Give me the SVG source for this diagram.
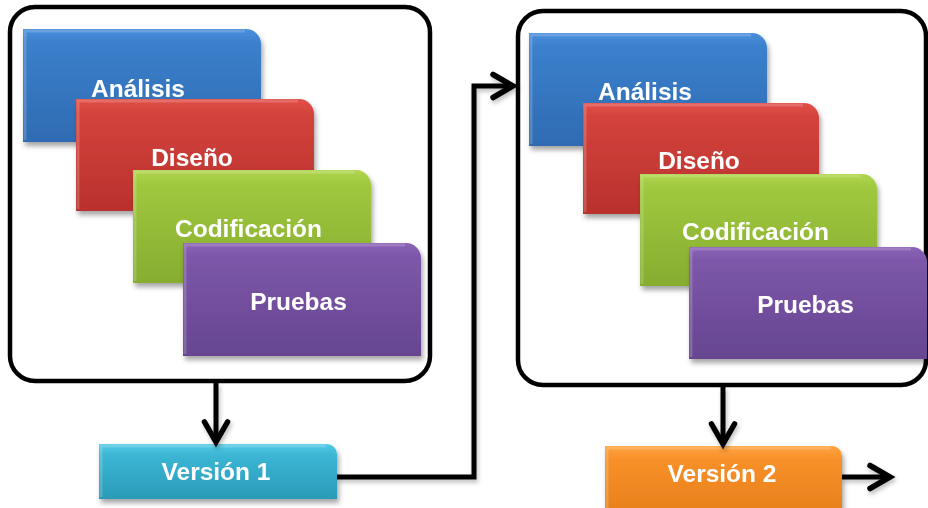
<svg xmlns="http://www.w3.org/2000/svg" width="928" height="508" viewBox="0 0 928 508">
<style>
.frame{fill:#fff;stroke:#000;stroke-width:4.5}
.lbl{font-family:"Liberation Sans",Arial,sans-serif;font-weight:bold;font-size:24.5px;fill:#fff;text-anchor:middle}
.conn{fill:none;stroke:#000;stroke-width:5;stroke-linejoin:miter}
.bevel{fill:none;stroke:#fff;stroke-opacity:0.18;stroke-width:3}
</style>
<defs>
<filter id="sh" x="-10%" y="-10%" width="125%" height="130%">
<feDropShadow dx="2" dy="4" stdDeviation="2.5" flood-color="#000" flood-opacity="0.35"/>
</filter>
<filter id="lsh" x="-10%" y="-10%" width="125%" height="130%">
<feDropShadow dx="1.5" dy="3" stdDeviation="2" flood-color="#000" flood-opacity="0.25"/>
</filter>
<linearGradient id="gBlue" x1="0" y1="0" x2="0" y2="1"><stop offset="0" stop-color="#4a8fdc"/><stop offset="0.12" stop-color="#3b80cc"/><stop offset="1" stop-color="#2f6bb2"/></linearGradient>
<linearGradient id="gRed" x1="0" y1="0" x2="0" y2="1"><stop offset="0" stop-color="#e2504a"/><stop offset="0.12" stop-color="#d4433d"/><stop offset="1" stop-color="#b8312d"/></linearGradient>
<linearGradient id="gGreen" x1="0" y1="0" x2="0" y2="1"><stop offset="0" stop-color="#b0d64e"/><stop offset="0.12" stop-color="#a0c83f"/><stop offset="1" stop-color="#86ad2f"/></linearGradient>
<linearGradient id="gPurple" x1="0" y1="0" x2="0" y2="1"><stop offset="0" stop-color="#8b62b6"/><stop offset="0.12" stop-color="#7d57a9"/><stop offset="1" stop-color="#674591"/></linearGradient>
<linearGradient id="gCyan" x1="0" y1="0" x2="0" y2="1"><stop offset="0" stop-color="#55cbe6"/><stop offset="0.2" stop-color="#3bb6d4"/><stop offset="1" stop-color="#2a9ab8"/></linearGradient>
<linearGradient id="gOrange" x1="0" y1="0" x2="0" y2="1"><stop offset="0" stop-color="#ffa440"/><stop offset="0.2" stop-color="#f8902a"/><stop offset="1" stop-color="#e8801c"/></linearGradient>
<marker id="chev" markerUnits="userSpaceOnUse" markerWidth="32" markerHeight="32" viewBox="-26 -16 32 32" refX="0" refY="0" orient="auto">
<path d="M-20,-11.5 L0,0 L-20,11.5" fill="none" stroke="#000" stroke-width="5.5" stroke-linecap="round" stroke-linejoin="miter"/>
</marker>
</defs>

<g id="iteration1">
<rect class="frame" x="10" y="7" width="420" height="374" rx="25"/>
<g id="analisis1" filter="url(#sh)"><path d="M23,29 H246 A15,15 0 0 1 261,44 V142 H23 Z" fill="url(#gBlue)"/><path class="bevel" d="M25,140 V31 H245"/><text class="lbl" x="138" y="97">Análisis</text></g>
<g id="diseno1" filter="url(#sh)"><path d="M76,99 H299 A15,15 0 0 1 314,114 V211 H76 Z" fill="url(#gRed)"/><path class="bevel" d="M78,209 V101 H298"/><text class="lbl" x="192" y="166">Diseño</text></g>
<g id="codificacion1" filter="url(#sh)"><path d="M133,170 H356 A15,15 0 0 1 371,185 V283 H133 Z" fill="url(#gGreen)"/><path class="bevel" d="M135,281 V172 H355"/><text class="lbl" x="248.5" y="237">Codificación</text></g>
<g id="pruebas1" filter="url(#sh)"><path d="M183,243 H406 A15,15 0 0 1 421,258 V356 H183 Z" fill="url(#gPurple)"/><path class="bevel" d="M185,354 V245 H405"/><text class="lbl" x="298.5" y="310">Pruebas</text></g>
</g>

<g id="iteration2">
<rect class="frame" x="518" y="11" width="408" height="374" rx="25"/>
<g id="analisis2" filter="url(#sh)"><path d="M529,33 H752 A15,15 0 0 1 767,48 V146 H529 Z" fill="url(#gBlue)"/><path class="bevel" d="M531,144 V35 H751"/><text class="lbl" x="645" y="100">Análisis</text></g>
<g id="diseno2" filter="url(#sh)"><path d="M583,103 H804 A15,15 0 0 1 819,118 V214 H583 Z" fill="url(#gRed)"/><path class="bevel" d="M585,212 V105 H803"/><text class="lbl" x="699" y="169">Diseño</text></g>
<g id="codificacion2" filter="url(#sh)"><path d="M640,174 H862 A15,15 0 0 1 877,189 V286 H640 Z" fill="url(#gGreen)"/><path class="bevel" d="M642,284 V176 H861"/><text class="lbl" x="755.5" y="240">Codificación</text></g>
<g id="pruebas2" filter="url(#sh)"><path d="M689,247 H912 A15,15 0 0 1 927,262 V359 H689 Z" fill="url(#gPurple)"/><path class="bevel" d="M691,357 V249 H911"/><text class="lbl" x="805.5" y="313">Pruebas</text></g>
</g>

<g id="version1" filter="url(#sh)"><path d="M99,444 H327 A10,10 0 0 1 337,454 V499 H99 Z" fill="url(#gCyan)"/><path class="bevel" d="M101,497 V446 H326"/><text class="lbl" x="216" y="480">Versión 1</text></g>
<g id="version2" filter="url(#sh)"><path d="M605,446 H832 A10,10 0 0 1 842,456 V512 H605 Z" fill="url(#gOrange)"/><path class="bevel" d="M607,510 V448 H831"/><text class="lbl" x="722" y="482">Versión 2</text></g>

<g id="connectors" filter="url(#lsh)">
<path class="conn" d="M216,383 V442" marker-end="url(#chev)"/>
<path class="conn" d="M337,477 H474 V86 H513" marker-end="url(#chev)"/>
<path class="conn" d="M723,387 V444" marker-end="url(#chev)"/>
<path class="conn" d="M842,477 H890" marker-end="url(#chev)"/>
</g>
</svg>
